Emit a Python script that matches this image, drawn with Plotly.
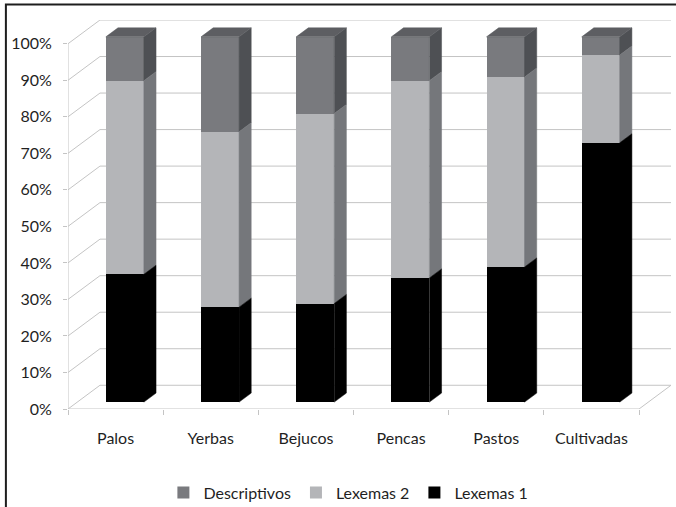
import plotly.graph_objects as go

# --- data -------------------------------------------------------------
categories = ["Palos", "Yerbas", "Bejucos", "Pencas", "Pastos", "Cultivadas"]
lexemas1 = [35, 26, 27, 34, 37, 71]
lexemas2 = [53, 48, 52, 54, 52, 24]
descriptivos = [12, 26, 21, 12, 11, 5]
y_ticks = [0, 10, 20, 30, 40, 50, 60, 70, 80, 90, 100]

# --- pseudo-3D geometry (oblique projection) ---------------------------
DEPTH_X = 0.336   # depth of the floor, in category units
DEPTH_Y = 6.5     # depth of the floor, in percent units
D_FRONT = 0.29    # bar front face position along the depth
D_BACK = 0.67     # bar back face position along the depth
BAR_W = 0.4

GRID = "#c4c4c4"
FONT = dict(family="Lato, 'Open Sans', sans-serif", size=16, color="#1f1f1f")

series = [
    ("Descriptivos", descriptivos, "#797a7e", "#4e5054", "#5d5e62"),
    ("Lexemas 2", lexemas2, "#b4b5b8", "#75777b", "#8a8b8f"),
    ("Lexemas 1", lexemas1, "#000000", "#000000", "#000000"),
]

# stacking: Lexemas 1 at the bottom, then Lexemas 2, then Descriptivos
stack_order = [lexemas1, lexemas2, descriptivos]
bases = {}
running = [0.0] * len(categories)
for vals in stack_order:
    bases[id(vals)] = list(running)
    running = [r + v for r, v in zip(running, vals)]
totals = running

x_front = [i + D_FRONT * DEPTH_X for i in range(len(categories))]
y_off = D_FRONT * DEPTH_Y
ddx = (D_BACK - D_FRONT) * DEPTH_X
ddy = (D_BACK - D_FRONT) * DEPTH_Y

fig = go.Figure()

# front faces as bars
for name, vals, front, side, top in series:
    b = bases[id(vals)]
    fig.add_trace(go.Bar(
        x=x_front, y=vals, base=[v + y_off for v in b], width=BAR_W,
        name=name, marker=dict(color=front, line=dict(width=0)),
        hoverinfo="skip",
    ))

# side faces of each segment
for name, vals, front, side, top in series:
    b = bases[id(vals)]
    xs, ys = [], []
    for xc, y0, v in zip(x_front, b, vals):
        xr = xc + BAR_W / 2
        y0 += y_off
        y1 = y0 + v
        xs += [xr, xr + ddx, xr + ddx, xr, xr, None]
        ys += [y0, y0 + ddy, y1 + ddy, y1, y0, None]
    fig.add_trace(go.Scatter(
        x=xs, y=ys, mode="lines", fill="toself", fillcolor=side,
        line=dict(width=0.5, color=side), showlegend=False, hoverinfo="skip",
    ))

# top faces of the stacks (top segment colour)
top_color = series[0][4]
xs, ys = [], []
for xc, t in zip(x_front, totals):
    xl, xr = xc - BAR_W / 2, xc + BAR_W / 2
    yt = t + y_off
    xs += [xl, xr, xr + ddx, xl + ddx, xl, None]
    ys += [yt, yt, yt + ddy, yt + ddy, yt, None]
fig.add_trace(go.Scatter(
    x=xs, y=ys, mode="lines", fill="toself", fillcolor=top_color,
    line=dict(width=0.5, color=top_color), showlegend=False, hoverinfo="skip",
))

# --- walls and floor ------------------------------------------------------
x_left, x_right = -0.5, len(categories) - 0.5
shapes = []
line_style = dict(color=GRID, width=1)
for v in y_ticks:
    # back wall gridline
    shapes.append(dict(type="line", xref="x", yref="y", layer="below",
                       x0=x_left + DEPTH_X, x1=x_right + DEPTH_X,
                       y0=v + DEPTH_Y, y1=v + DEPTH_Y, line=line_style))
    # side wall gridline
    shapes.append(dict(type="line", xref="x", yref="y", layer="below",
                       x0=x_left, x1=x_left + DEPTH_X,
                       y0=v, y1=v + DEPTH_Y, line=line_style))
# front-left edge of the side wall
shapes.append(dict(type="line", xref="x", yref="y", layer="below",
                   x0=x_left, x1=x_left, y0=0, y1=y_ticks[-1], line=line_style))
# front and right edges of the floor
shapes.append(dict(type="line", xref="x", yref="y", layer="below",
                   x0=x_left, x1=x_right, y0=0, y1=0, line=line_style))
shapes.append(dict(type="line", xref="x", yref="y", layer="below",
                   x0=x_right, x1=x_right + DEPTH_X, y0=0, y1=DEPTH_Y,
                   line=line_style))
# outer frame of the chart area
shapes.append(dict(type="rect", xref="paper", yref="paper", layer="above",
                   x0=-0.103, x1=1.2, y0=1.04, y1=-0.4,
                   line=dict(color="#1e1e1e", width=2), fillcolor="rgba(0,0,0,0)"))

fig.update_layout(
    width=676, height=507,
    margin=dict(l=68, r=5, t=20, b=98, autoexpand=False),
    paper_bgcolor="white", plot_bgcolor="white",
    barmode="overlay", bargap=0,
    font=FONT,
    shapes=shapes,
    showlegend=True,
    legend=dict(orientation="h", x=0.465, xanchor="center", y=-0.215,
                yanchor="middle", font=FONT, itemwidth=30,
                bgcolor="rgba(0,0,0,0)"),
    xaxis=dict(range=[x_left, x_right + DEPTH_X],
               tickmode="array", tickvals=list(range(len(categories))),
               ticktext=categories, ticks="", showgrid=False, zeroline=False,
               showline=False, ticklabelstandoff=18, automargin=False,
               minor=dict(ticks="outside", tickmode="linear", tick0=-0.5, dtick=1,
                          ticklen=5, tickcolor=GRID, showgrid=False)),
    yaxis=dict(range=[0, 100 + DEPTH_Y], tickmode="array", tickvals=y_ticks,
               ticktext=[f"{v}%" for v in y_ticks], ticks="outside", ticklen=4,
               tickcolor=GRID, showgrid=False, zeroline=False, showline=False,
               ticklabelstandoff=8, automargin=False),
)

fig.write_html("out.html")
